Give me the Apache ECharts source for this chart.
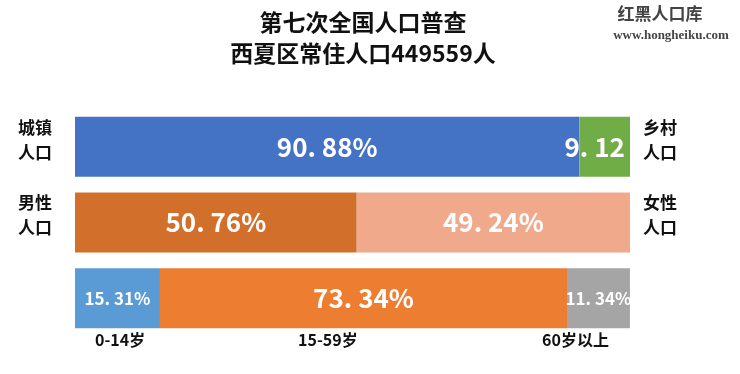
<!DOCTYPE html>
<html><head><meta charset="utf-8">
<script src="https://cdn.jsdelivr.net/npm/echarts@6/dist/echarts.min.js"></script>
<style>html,body{margin:0;padding:0;background:#fff}#c{width:740px;height:374px}</style>
</head><body><div id="c"></div>
<script>
var rowsLeft = ['城镇\n人口', '男性\n人口', ''];
var rowsRight = ['乡村\n人口', '女性\n人口', ''];
var urban = [90.88, '-', '-'];
var rural = [9.12, '-', '-'];
var male = ['-', 50.76, '-'];
var female = ['-', 49.24, '-'];
var age0 = ['-', '-', 15.31];
var age15 = ['-', '-', 73.34];
var age60 = ['-', '-', 11.34];
var ageLabels = ['0-14岁', '15-59岁', '60岁以上'];
var titleText = '第七次全国人口普查\n西夏区常住人口449559人';

var CJK = 'Noto Sans CJK SC';
function fmt(v, pct) { var s = v.toFixed(2).replace('.', '. '); return pct ? s + '%' : s; }
function mk(name, data, color, size, pct, offset) {
  return {
    name: name, type: 'bar', stack: 'all', data: data, barWidth: 60,
    itemStyle: { color: color },
    label: { show: true, position: 'inside', color: '#fff', fontSize: size, fontFamily: CJK, fontWeight: 'bold',
      offset: offset || [0, 0],
      formatter: function (p) { return fmt(p.value, pct); } }
  };
}
function sideLabel(v) {
  if (!v) return '';
  return v.split('\n').map(function (x) { return '{a|' + x + '}'; }).join('\n') + '\n{s| }';
}
var sideRich = {
  a: { color: '#111', fontFamily: CJK, fontWeight: 'bold', fontSize: 17, lineHeight: 25 },
  s: { fontSize: 10, lineHeight: 14 }
};
var chart = echarts.init(document.getElementById('c'));
chart.setOption({
  animation: false,
  title: [
    { text: titleText, left: 358, top: 2, textAlign: 'center',
      textStyle: { fontFamily: CJK, fontWeight: 'bold', fontSize: 23, lineHeight: 31, color: '#111' } },
    { text: '红黑人口库', left: 655, top: 0, textAlign: 'center',
      textStyle: { fontFamily: CJK, fontWeight: 'bold', fontSize: 17, color: '#444' } },
    { text: 'www.hongheiku.com', left: 666, top: 24, textAlign: 'center',
      textStyle: { fontFamily: 'Liberation Serif', fontWeight: 'bold', fontSize: 13, color: '#444' } }
  ],
  grid: { left: 75, right: 110, top: 109, height: 227 },
  xAxis: { type: 'value', min: 0, max: 100, show: false },
  yAxis: [
    { type: 'category', data: rowsLeft, inverse: true, position: 'left',
      axisLine: { show: false }, axisTick: { show: false },
      axisLabel: { margin: 40, align: 'center', formatter: sideLabel, rich: sideRich } },
    { type: 'category', data: rowsRight, inverse: true, position: 'right',
      axisLine: { show: false }, axisTick: { show: false },
      axisLabel: { margin: 30, align: 'center', formatter: sideLabel, rich: sideRich } }
  ],
  series: [
    mk('城镇', urban, '#4472C4', 26, true),
    mk('乡村', rural, '#70AD47', 26, false, [-10, 0]),
    mk('男性', male, '#D2702B', 26, true),
    mk('女性', female, '#F1A98B', 26, true),
    mk('0-14岁', age0, '#5B9BD5', 17, true),
    mk('15-59岁', age15, '#ED7D31', 26, true),
    mk('60岁以上', age60, '#A5A5A5', 17, true)
  ],
  graphic: [
    { type: 'text', left: 95, top: 332, style: { text: ageLabels[0], font: 'bold 16px "Noto Sans CJK SC"', fill: '#111' } },
    { type: 'text', left: 298, top: 332, style: { text: ageLabels[1], font: 'bold 16px "Noto Sans CJK SC"', fill: '#111' } },
    { type: 'text', left: 542, top: 332, style: { text: ageLabels[2], font: 'bold 16px "Noto Sans CJK SC"', fill: '#111' } }
  ]
});
</script></body></html>
